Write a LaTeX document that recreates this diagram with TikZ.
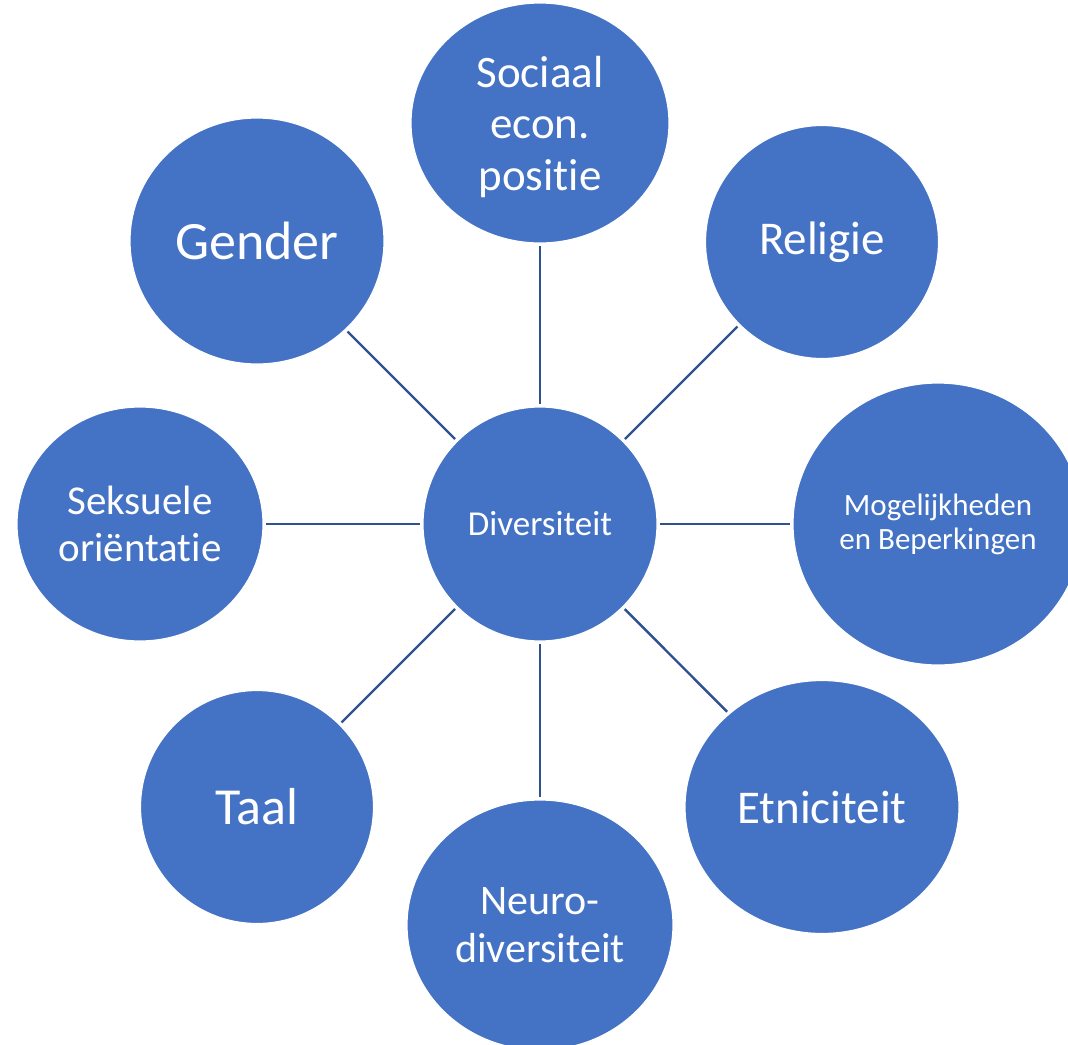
\documentclass[tikz,border=0pt]{standalone}
\usepackage{fontspec}
\setmainfont{Carlito}[Ligatures={NoCommon}]
\usetikzlibrary{shapes.geometric}
\definecolor{bub}{HTML}{4472C4}
\definecolor{lin}{HTML}{2F528F}
\begin{document}
\begin{tikzpicture}[x=1pt,y=-1pt,
  bubble/.style={ellipse, fill=bub, draw=white, line width=1.2pt, text=white, inner sep=0pt, align=center},
  link/.style={draw=lin, line width=2.4pt, shorten <=2.5pt, shorten >=2.5pt}]
\useasboundingbox (0,0) rectangle (1068,1044);
\clip (0,0) rectangle (1068,1044);
\node[bubble, minimum width=234pt, minimum height=234pt, font=\fontsize{35}{42}\selectfont] (c) at (540,524) {Diversiteit};
\node[bubble, minimum width=258pt, minimum height=240pt,
  label={[text=white, align=center, font=\fontsize{45}{52}\selectfont, inner sep=0pt, yshift=-4pt]center:Sociaal\\econ.\\positie}] (soc) at (540,123) {};
\node[bubble, minimum width=254pt, minimum height=246pt, font=\fontsize{54}{60}\selectfont] (gen) at (257,241) {Gender};
\node[bubble, minimum width=233pt, minimum height=233pt, font=\fontsize{47}{54}\selectfont] (rel) at (822,242) {Religie};
\node[bubble, minimum width=246pt, minimum height=234pt, font=\fontsize{41}{47}\selectfont] (sek) at (140,524) {Seksuele\\oriëntatie};
\node[bubble, minimum width=290pt, minimum height=282pt, font=\fontsize{31}{34}\selectfont] (mog) at (938,524) {Mogelijkheden\\en Beperkingen};
\node[bubble, minimum width=233pt, minimum height=233pt, font=\fontsize{52}{60}\selectfont] (taal) at (257,807) {Taal};
\node[bubble, minimum width=266pt, minimum height=250pt, font=\fontsize{42}{48}\selectfont] (neu) at (540,925) {Neuro-\\diversiteit};
\node[bubble, minimum width=274pt, minimum height=253pt, font=\fontsize{47}{54}\selectfont] (etn) at (822,807) {Etniciteit};
\draw[link] (c) -- (soc);
\draw[link] (c) -- (gen);
\draw[link] (c) -- (rel);
\draw[link] (c) -- (sek);
\draw[link] (c) -- (mog);
\draw[link] (c) -- (taal);
\draw[link] (c) -- (neu);
\draw[link] (c) -- (etn);
\end{tikzpicture}
\end{document}
